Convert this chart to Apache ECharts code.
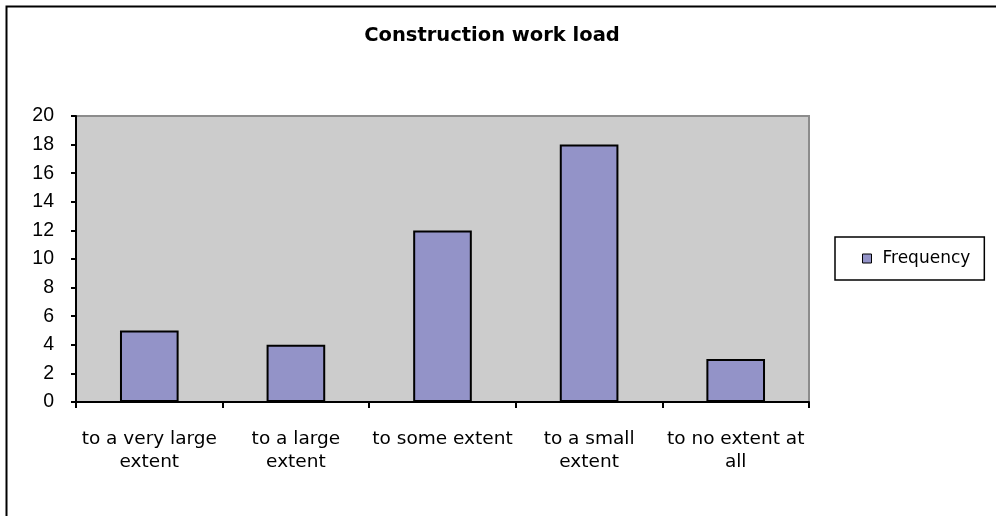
<!DOCTYPE html>
<html>
<head>
<meta charset="utf-8">
<script src="https://cdn.jsdelivr.net/npm/echarts@6/dist/echarts.min.js"></script>
<style>
  html, body { margin: 0; padding: 0; background: #fff; }
  #chart { width: 996px; height: 516px; }
</style>
</head>
<body>
<div id="chart"></div>
<script>
// data
var categories = ['to a very large\nextent', 'to a large\nextent', 'to some extent', 'to a small\nextent', 'to no extent at\nall'];
var frequency = [5, 4, 12, 18, 3];
var seriesName = 'Frequency';
var chartTitle = 'Construction work load';

var myChart = echarts.init(document.getElementById('chart'));

var option = {
  backgroundColor: '#fff',
  animation: false,
  title: {
    text: chartTitle,
    left: 487,
    top: 21,
    textAlign: 'center',
    textStyle: {
      fontFamily: 'DejaVu Sans',
      fontWeight: 'bold',
      fontSize: 19.5,
      color: '#000'
    }
  },
  legend: {
    left: 835,
    top: 237,
    orient: 'vertical',
    data: [seriesName],
    borderColor: '#000',
    borderWidth: 1.5,
    padding: [13, 14, 13, 27],
    icon: 'rect',
    itemWidth: 9,
    itemHeight: 9,
    itemGap: 0,
    itemStyle: { borderColor: '#000', borderWidth: 1 },
    textStyle: {
      fontFamily: 'DejaVu Sans',
      fontSize: 17,
      color: '#000',
      padding: [0, 0, 0, 6]
    }
  },
  grid: {
    left: 76,
    right: 187,
    top: 116,
    bottom: 114,
    show: true,
    backgroundColor: '#cccccc',
    borderColor: '#8c8c8c',
    borderWidth: 2
  },
  xAxis: {
    type: 'category',
    data: categories,
    axisLine: { lineStyle: { color: '#000', width: 2 } },
    axisTick: { show: true, length: 6, lineStyle: { color: '#000', width: 2 } },
    axisLabel: {
      interval: 0,
      margin: 26,
      lineHeight: 23,
      color: '#000',
      fontFamily: 'DejaVu Sans',
      fontSize: 18.5
    }
  },
  yAxis: {
    type: 'value',
    min: 0,
    max: 20,
    interval: 2,
    splitLine: { show: false },
    axisLine: { show: true, lineStyle: { color: '#000', width: 2 } },
    axisTick: { show: true, length: 5, lineStyle: { color: '#000', width: 2 } },
    axisLabel: {
      margin: 22,
      color: '#000',
      fontFamily: 'Liberation Sans',
      fontSize: 19.5
    }
  },
  series: [
    {
      name: seriesName,
      type: 'bar',
      data: frequency,
      barWidth: '40%',
      itemStyle: {
        color: '#9393c8',
        borderColor: '#000',
        borderWidth: 2
      }
    }
  ],
  graphic: [
    {
      type: 'rect',
      left: 4,
      top: 4,
      shape: { width: 1000, height: 520 },
      style: { fill: null, stroke: '#000', lineWidth: 2 },
      silent: true
    }
  ]
};

myChart.setOption(option);
</script>
</body>
</html>
